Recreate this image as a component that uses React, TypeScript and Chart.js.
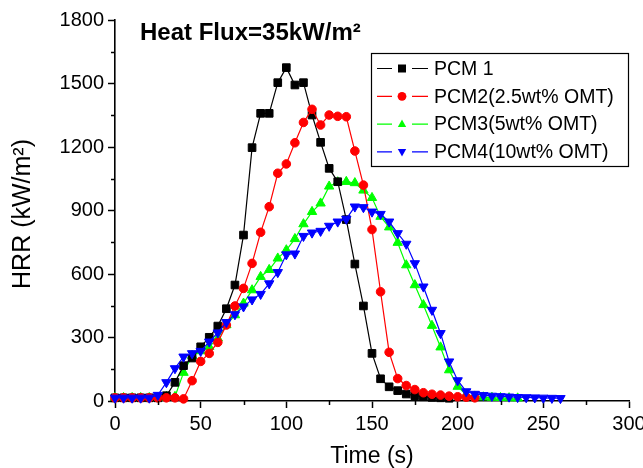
import React, { useEffect, useRef } from 'react';
import { Chart, registerables } from 'chart.js';

Chart.register(...registerables);

// ---- data (time in s, HRR in kW/m²) ----
const times = [0, 5, 10, 15, 20, 25, 30, 35, 40, 45, 50, 55, 60, 65, 70, 75, 80, 85, 90, 95, 100, 105, 110, 115, 120, 125, 130, 135, 140, 145, 150, 155, 160, 165, 170, 175, 180, 185, 190, 195, 200, 205, 210, 215, 220, 225, 230, 235, 240, 245, 250, 255, 260];

const pcm1 = [15, 15, 15, 15, 15, 15, 25, 88, 167, 203, 256, 301, 354, 436, 548, 784, 1197, 1359, 1359, 1504, 1575, 1493, 1504, 1351, 1222, 1099, 1036, 857, 647, 449, 225, 105, 67, 49, 33, 25, 20, 17, 15, 13];
const pcm2 = [15, 15, 15, 15, 15, 15, 15, 15, 10, 96, 187, 225, 277, 359, 449, 532, 650, 797, 918, 1076, 1120, 1220, 1316, 1378, 1304, 1351, 1345, 1343, 1181, 1020, 810, 516, 230, 106, 73, 54, 39, 32, 28, 23, 20, 18, 15];
const pcm3 = [15, 15, 15, 15, 15, 15, 20, 20, 134, 214, 236, 256, 296, 359, 406, 461, 524, 587, 620, 674, 713, 766, 836, 894, 934, 1014, 1034, 1036, 1030, 995, 960, 871, 821, 748, 642, 548, 454, 356, 254, 146, 68, 30, 22, 18, 16, 15, 14, 13];
const pcm4 = [15, 15, 15, 15, 15, 28, 88, 154, 209, 225, 236, 280, 323, 372, 409, 446, 479, 505, 555, 608, 692, 696, 779, 795, 803, 827, 847, 860, 918, 915, 894, 883, 847, 792, 742, 650, 540, 430, 320, 186, 97, 45, 33, 27, 24, 22, 20, 18, 17, 16, 15, 14, 13];

const seriesLabels = ['PCM 1', 'PCM2(2.5wt% OMT)', 'PCM3(5wt% OMT)', 'PCM4(10wt% OMT)'];
const seriesColors = ['#000000', '#ff0000', '#00ff00', '#0000ff'];
const seriesValues = [pcm1, pcm2, pcm3, pcm4];

const xMajorStep = 50;
const yMajorStep = 300;
const xMinorTicks = [25, 75, 125, 175, 225, 275];
const yMinorTicks = [150, 450, 750, 1050, 1350, 1650];

const headingText = 'Heat Flux=35kW/m²';
const yTitle = 'HRR (kW/m²)';
const xTitle = 'Time (s)';

const FONT = '"Liberation Sans", Arial, Helvetica, sans-serif';

function drawMarker(ctx: CanvasRenderingContext2D, kind: number, x: number, y: number, s: number) {
  ctx.beginPath();
  if (kind === 0) {
    ctx.rect(x - s, y - s, 2 * s, 2 * s);
  } else if (kind === 1) {
    ctx.arc(x, y, s, 0, Math.PI * 2);
  } else if (kind === 2) {
    ctx.moveTo(x, y - s * 1.15);
    ctx.lineTo(x + s * 1.05, y + s * 0.7);
    ctx.lineTo(x - s * 1.05, y + s * 0.7);
    ctx.closePath();
  } else {
    ctx.moveTo(x, y + s * 1.15);
    ctx.lineTo(x + s * 1.05, y - s * 0.7);
    ctx.lineTo(x - s * 1.05, y - s * 0.7);
    ctx.closePath();
  }
  ctx.fill();
}

const overlayPlugin = {
  id: 'overlayPlugin',
  afterDraw(chart: any) {
    const ctx: CanvasRenderingContext2D = chart.ctx;
    const xs = chart.scales.x;
    const ys = chart.scales.y;
    ctx.save();
    // minor ticks
    ctx.strokeStyle = '#000';
    ctx.lineWidth = 1.5;
    ctx.beginPath();
    for (const v of yMinorTicks) {
      const py = Math.round(ys.getPixelForValue(v)) + 0.5;
      ctx.moveTo(xs.left - 4, py);
      ctx.lineTo(xs.left, py);
    }
    for (const v of xMinorTicks) {
      const px = Math.round(xs.getPixelForValue(v)) + 0.5;
      ctx.moveTo(px, ys.bottom);
      ctx.lineTo(px, ys.bottom + 4);
    }
    ctx.stroke();

    // heading
    ctx.fillStyle = '#000';
    ctx.font = `bold 24px ${FONT}`;
    ctx.textAlign = 'left';
    ctx.textBaseline = 'alphabetic';
    ctx.fillText(headingText, 140, 40);

    // y axis title
    ctx.save();
    ctx.translate(23, 214);
    ctx.rotate(-Math.PI / 2);
    ctx.font = `25px ${FONT}`;
    ctx.textAlign = 'center';
    ctx.textBaseline = 'middle';
    ctx.fillText(yTitle, 0, 0);
    ctx.restore();

    // legend box
    const bx = 371.5, by = 53.5, bw = 257, bh = 113;
    ctx.fillStyle = '#fff';
    ctx.fillRect(bx, by, bw, bh);
    ctx.strokeStyle = '#000';
    ctx.lineWidth = 1.2;
    ctx.strokeRect(bx, by, bw, bh);
    ctx.font = `19.5px ${FONT}`;
    ctx.textAlign = 'left';
    ctx.textBaseline = 'middle';
    seriesLabels.forEach((label, i) => {
      const cy = 68.5 + i * 27.8;
      ctx.strokeStyle = seriesColors[i];
      ctx.lineWidth = 1.2;
      ctx.beginPath();
      ctx.moveTo(377, cy);
      ctx.lineTo(392, cy);
      ctx.moveTo(412, cy);
      ctx.lineTo(428, cy);
      ctx.stroke();
      ctx.fillStyle = seriesColors[i];
      drawMarker(ctx, i, 402, cy, i === 1 ? 4.4 : 4.0);
      ctx.fillStyle = '#000';
      ctx.fillText(label, 434, cy + 1);
    });
    ctx.restore();
  },
};

export default function App() {
  const canvasRef = useRef<HTMLCanvasElement | null>(null);

  useEffect(() => {
    const canvas = canvasRef.current;
    if (!canvas) return;
    const styles = [
      { pointStyle: 'rect', pointRadius: 5.4, rotation: 0, order: 2 },
      { pointStyle: 'circle', pointRadius: 4.3, rotation: 0, order: 1 },
      { pointStyle: 'triangle', pointRadius: 5.4, rotation: 0, order: 3 },
      { pointStyle: 'triangle', pointRadius: 5.4, rotation: 180, order: 0 },
    ];
    const datasets = seriesValues.map((vals, i) => ({
      label: seriesLabels[i],
      data: vals.map((v, j) => ({ x: times[j], y: v })),
      borderColor: seriesColors[i],
      backgroundColor: seriesColors[i],
      pointBackgroundColor: seriesColors[i],
      pointBorderColor: seriesColors[i],
      pointBorderWidth: 1,
      borderWidth: 1.2,
      pointStyle: styles[i].pointStyle,
      pointRadius: styles[i].pointRadius,
      pointRotation: styles[i].rotation,
      order: styles[i].order,
      tension: 0,
      clip: false,
    }));

    const chart = new Chart(canvas, {
      type: 'line',
      data: { datasets },
      options: {
        animation: false,
        responsive: false,
        devicePixelRatio: 1,
        layout: { padding: { top: 20, right: 14, left: 0, bottom: 0 }, autoPadding: false },
        plugins: {
          legend: { display: false },
          tooltip: { enabled: false },
          title: { display: false },
        },
        scales: {
          x: {
            type: 'linear',
            min: 0,
            max: 300,
            ticks: {
              stepSize: xMajorStep,
              color: '#000',
              font: { family: FONT, size: 20 },
              padding: 4,
              maxRotation: 0,
              autoSkip: false,
              callback: (v: any) => String(v),
            },
            grid: {
              display: true,
              drawOnChartArea: false,
              drawTicks: true,
              tickLength: 7,
              tickWidth: 1.5,
              tickColor: '#000',
            },
            border: { display: true, color: '#000', width: 1.6 },
            title: {
              display: true,
              text: xTitle,
              color: '#000',
              font: { family: FONT, size: 23, lineHeight: 1 },
              padding: { top: 0, bottom: 0 },
            },
            afterFit: (scale: any) => {
              scale.height = 67;
              scale.paddingRight = 0;
            },
          },
          y: {
            type: 'linear',
            min: 0,
            max: 1800,
            ticks: {
              stepSize: yMajorStep,
              color: '#000',
              font: { family: FONT, size: 20 },
              padding: 4,
              autoSkip: false,
              callback: (v: any) => String(v),
            },
            grid: {
              display: true,
              drawOnChartArea: false,
              drawTicks: true,
              tickLength: 7,
              tickWidth: 1.5,
              tickColor: '#000',
            },
            border: { display: true, color: '#000', width: 1.6 },
            afterFit: (scale: any) => {
              scale.width = 115;
              scale.paddingTop = 0;
            },
          },
        },
      },
      plugins: [overlayPlugin],
    });
    return () => chart.destroy();
  }, []);

  return (
    <div style={{ position: 'absolute', left: 0, top: 0, width: 643, height: 468, background: '#fff' }}>
      <canvas ref={canvasRef} width={643} height={468} />
    </div>
  );
}
